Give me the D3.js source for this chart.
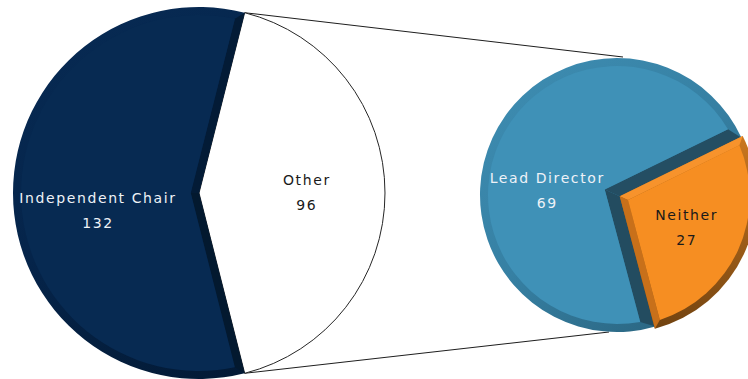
<!DOCTYPE html>
<html><head><meta charset="utf-8">
<script src="https://cdn.jsdelivr.net/npm/d3@7"></script>
<style>html,body{margin:0;padding:0;background:#fff;overflow:hidden}</style>
</head><body>
<svg id="chart" width="748" height="379"></svg>
<script>
// Board leadership: primary split, and the breakdown of "Other"
const mainCategories = ["Other", "Independent Chair"];
const mainValues = [96, 132];
const subCategories = ["Lead Director", "Neither"];
const subValues = [69, 27];

const svg = d3.select("#chart");
const defs = svg.append("defs");
const TAU = Math.PI * 2;

// pie layouts
const main = { cx: 199, cy: 193, r: 186 };
const sub = { cx: 617, cy: 195, r: 137 };

const mainTotal = d3.sum(mainValues);
const mainAngle = d3.scaleLinear().domain([0, mainTotal]).range([0, TAU]);
// "Other" is centred on the right-hand side, facing the breakdown pie
const mainStart = Math.PI / 2 - mainAngle(mainValues[0]) / 2;
const mainPie = d3.pie().sort(null).startAngle(mainStart).endAngle(mainStart + TAU);
const mainArcs = mainPie(mainValues);

const subTotal = d3.sum(subValues);
const subAngle = d3.scaleLinear().domain([0, subTotal]).range([0, TAU]);
const neitherMid = (90 + 24.5) * Math.PI / 180;
const subStart = neitherMid + subAngle(subValues[1]) / 2;
const subPie = d3.pie().sort(null).startAngle(subStart).endAngle(subStart + TAU);
const subArcs = subPie(subValues);

// geometry helpers (angles: 0 at 12 o'clock, clockwise)
const pt = (c, r, a) => [c[0] + r * Math.sin(a), c[1] - r * Math.cos(a)];
const norm = v => { const l = Math.hypot(v[0], v[1]); return [v[0] / l, v[1] / l]; };
const add = (a, b, k = 1) => [a[0] + b[0] * k, a[1] + b[1] * k];
const angOf = (c, p) => Math.atan2(p[0] - c[0], -(p[1] - c[1]));

function wedgePath(apex, c, r, a0, a1) {
  const p = d3.path();
  const s = pt(c, r, a0);
  p.moveTo(apex[0], apex[1]);
  p.lineTo(s[0], s[1]);
  p.arc(c[0], c[1], r, a0 - Math.PI / 2, a1 - Math.PI / 2, false);
  p.closePath();
  return p.toString();
}
function polyPath(pts) {
  const p = d3.path();
  p.moveTo(pts[0][0], pts[0][1]);
  pts.slice(1).forEach(q => p.lineTo(q[0], q[1]));
  p.closePath();
  return p.toString();
}
function lineCircle(b, u, c, R) {
  const d = [b[0] - c[0], b[1] - c[1]];
  const du = d[0] * u[0] + d[1] * u[1];
  const t = -du + Math.sqrt(du * du - (d[0] * d[0] + d[1] * d[1]) + R * R);
  return add(b, u, t);
}

// bevelled slice: outer ring, straight-edge bands, inner face
function bevelSlice(g, o) {
  const { c, r, a0, a1, apex, ring, edge } = o;
  const P0 = pt(c, r, a0), P1 = pt(c, r, a1);
  const u0 = norm([P0[0] - apex[0], P0[1] - apex[1]]);
  const u1 = norm([P1[0] - apex[0], P1[1] - apex[1]]);
  const n0 = [-u0[1], u0[0]];
  const n1 = [u1[1], -u1[0]];
  const B0 = add(apex, n0, edge), B1 = add(apex, n1, edge);
  // intersection of the two offset edges
  const rx = B1[0] - B0[0], ry = B1[1] - B0[1];
  const det = u0[0] * (-u1[1]) - u0[1] * (-u1[0]);
  const t = (rx * (-u1[1]) - ry * (-u1[0])) / det;
  const A2 = add(B0, u0, t);
  const Ri = r - ring;
  const Q0 = lineCircle(B0, u0, c, Ri), Q1 = lineCircle(B1, u1, c, Ri);
  let q0 = angOf(c, Q0), q1 = angOf(c, Q1);
  while (q1 <= q0) q1 += TAU;

  g.append("path").attr("d", wedgePath(apex, c, r, a0, a1)).attr("fill", o.ringFill);
  g.append("path").attr("d", polyPath([apex, P0, Q0, A2])).attr("fill", o.edge0Fill);
  g.append("path").attr("d", polyPath([apex, P1, Q1, A2])).attr("fill", o.edge1Fill);
  g.append("path").attr("d", wedgePath(A2, c, Ri, q0, q1)).attr("fill", o.fill);
}

function gradient(id, x1, y1, x2, y2, stops) {
  const lg = defs.append("linearGradient").attr("id", id)
    .attr("gradientUnits", "userSpaceOnUse")
    .attr("x1", x1).attr("y1", y1).attr("x2", x2).attr("y2", y2);
  stops.forEach(s => lg.append("stop").attr("offset", s[0]).attr("stop-color", s[1]));
  return `url(#${id})`;
}

const navyRing = gradient("navyRing", 60, 20, 240, 380, [[0, "#072a53"], [0.5, "#05244a"], [1, "#031a35"]]);
const blueRing = gradient("blueRing", 500, 60, 720, 330, [[0, "#3e8db2"], [0.5, "#3680a3"], [1, "#28607a"]]);
const orangeRing = gradient("orangeRing", 700, 130, 660, 335, [[0, "#c9761f"], [1, "#6e4110"]]);

const mc = [main.cx, main.cy];
const sc = [sub.cx, sub.cy];

// connector lines from the split slice to the breakdown pie
const other = mainArcs[0];
const topStart = pt(mc, main.r, other.startAngle);
const botStart = pt(mc, main.r, other.endAngle);
const conn = svg.append("g").attr("stroke", "#1e1e1e").attr("stroke-width", 1.1).attr("fill", "none");
conn.append("line").attr("x1", topStart[0]).attr("y1", topStart[1]).attr("x2", sub.cx + 6).attr("y2", sub.cy - sub.r - 1);
conn.append("line").attr("x1", botStart[0]).attr("y1", botStart[1]).attr("x2", sub.cx - 8).attr("y2", sub.cy + sub.r);

// main pie
const gMain = svg.append("g");
gMain.append("path")
  .attr("d", wedgePath(mc, mc, main.r, other.startAngle, other.endAngle))
  .attr("fill", "#ffffff").attr("stroke", "#262626").attr("stroke-width", 1);
const chair = mainArcs[1];
bevelSlice(gMain, {
  c: mc, r: main.r, a0: chair.startAngle, a1: chair.endAngle, apex: mc,
  ring: 8, edge: 8, ringFill: navyRing, edge0Fill: "#03192f", edge1Fill: "#031b36", fill: "#072a52"
});

// breakdown pie; the "Neither" slice is pulled out slightly and drawn on top
const gSub = svg.append("g");
const lead = subArcs[0], neither = subArcs[1];
const leadMid = (lead.startAngle + lead.endAngle) / 2;
const neitherMidA = (neither.startAngle + neither.endAngle) / 2;
const leadApex = pt(sc, 4, neitherMidA);
const tuck = 0.025; // Lead Director's side edges tuck under the Neither slice
bevelSlice(gSub, {
  c: sc, r: sub.r, a0: lead.startAngle - tuck, a1: lead.endAngle + tuck, apex: leadApex,
  ring: 8, edge: 13.5, ringFill: blueRing, edge0Fill: "#234c60", edge1Fill: "#244e63", fill: "#3f91b7"
});
const oc = pt(sc, 3, neitherMidA);
bevelSlice(gSub, {
  c: oc, r: sub.r, a0: neither.startAngle, a1: neither.endAngle, apex: oc,
  ring: 7, edge: 7, ringFill: orangeRing, edge0Fill: "#f7932c", edge1Fill: "#c8701a", fill: "#f68e22"
});

// data labels
const font = "'DejaVu Sans', Verdana, sans-serif";
function label(anchor, dy, name, value, color) {
  const t = svg.append("text").attr("text-anchor", "middle")
    .attr("font-family", font).attr("font-size", 14).attr("letter-spacing", 1.6)
    .attr("fill", color);
  t.append("tspan").attr("x", anchor[0]).attr("y", anchor[1] + dy).text(name);
  t.append("tspan").attr("x", anchor[0]).attr("y", anchor[1] + dy + 25).text(value);
}
const chairMid = (chair.startAngle + chair.endAngle) / 2;
const otherMid = (other.startAngle + other.endAngle) / 2;
const leadAnchor = pt(sc, 13, leadMid);
label(pt(mc, main.r * 0.543, chairMid), 10, mainCategories[1], mainValues[1], "#eef2f7");
label(pt(mc, main.r * 0.58, otherMid), -8, mainCategories[0], mainValues[0], "#1a1a1a");
label(pt(leadAnchor, sub.r * 0.465, leadMid), 20, subCategories[0], subValues[0], "#eef2f7");
label(pt(oc, sub.r * 0.537, neitherMidA), -6.5, subCategories[1], subValues[1], "#1a1a1a");
</script>
</body></html>
